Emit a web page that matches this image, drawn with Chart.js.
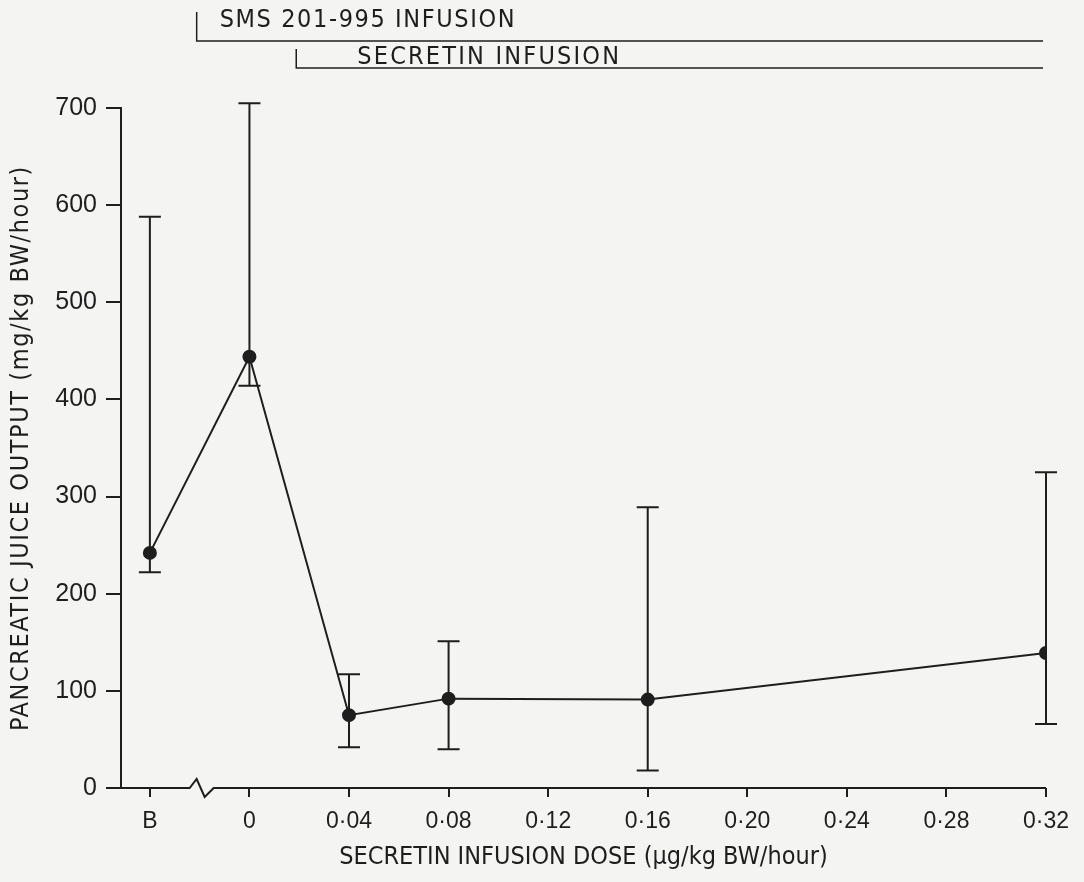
<!DOCTYPE html>
<html>
<head>
<meta charset="utf-8">
<script src="https://cdn.jsdelivr.net/npm/chart.js@4.4.1/dist/chart.umd.min.js"></script>
<style>
  html, body { margin: 0; padding: 0; background: #f4f4f3; }
  #wrap { width: 1084px; height: 882px; }
</style>
</head>
<body>
<div id="wrap"><canvas id="chart" width="1084" height="882"></canvas></div>
<script>
// data
const tickLabels = ['B', '0', '0·04', '0·08', '0·12', '0·16', '0·20', '0·24', '0·28', '0·32'];
const tickPos = [0, 1, 2, 3, 4, 5, 6, 7, 8, 9];
const xPos = [0, 1, 2, 3, 5, 9];          // B, 0, 0.04, 0.08, 0.16, 0.32
const meanVals = [242, 444, 75, 92, 91, 139];
const upperVals = [588, 705, 117, 151, 289, 325];
const lowerVals = [222, 414, 42, 40, 18, 66];

const ink = '#1e1e1e';
const narrow = "'Liberation Sans Narrow', 'DejaVu Sans Condensed', sans-serif";
const plain = "'Liberation Sans', Arimo, sans-serif";

// error bars, broken x axis, y title and the infusion bars on top
const extras = {
  id: 'extras',
  afterDatasetsDraw(chart) {
    const { ctx, scales: { x, y }, chartArea } = chart;
    ctx.save();
    ctx.strokeStyle = ink;
    ctx.lineWidth = 2;

    // error bars
    xPos.forEach((v, i) => {
      const px = x.getPixelForValue(v);
      const top = y.getPixelForValue(upperVals[i]);
      const bot = y.getPixelForValue(lowerVals[i]);
      ctx.beginPath();
      ctx.moveTo(px, top); ctx.lineTo(px, bot);
      ctx.moveTo(px - 11, top); ctx.lineTo(px + 11, top);
      ctx.moveTo(px - 11, bot); ctx.lineTo(px + 11, bot);
      ctx.stroke();
    });

    // x axis line with break between B and 0
    const y0 = y.getPixelForValue(0);
    const bx = x.getPixelForValue(0.52);
    ctx.beginPath();
    ctx.moveTo(chartArea.left, y0);
    ctx.lineTo(bx - 12, y0);
    ctx.lineTo(bx - 5, y0 - 9);
    ctx.lineTo(bx + 3, y0 + 9);
    ctx.lineTo(bx + 12, y0);
    ctx.lineTo(chartArea.right, y0);
    ctx.stroke();

    // infusion bars
    ctx.lineWidth = 1.5;
    const right = chartArea.right - 3;
    const s1 = x.getPixelForValue(0.47);
    const s2 = x.getPixelForValue(1.47);
    ctx.beginPath();
    ctx.moveTo(s1, 12); ctx.lineTo(s1, 41); ctx.lineTo(right, 41);
    ctx.moveTo(s2, 49); ctx.lineTo(s2, 68); ctx.lineTo(right, 68);
    ctx.stroke();

    ctx.fillStyle = ink;
    ctx.font = '25px ' + narrow;
    ctx.textBaseline = 'middle';
    ctx.textAlign = 'left';
    ctx.letterSpacing = '1.6px';
    ctx.fillText('SMS 201-995 INFUSION', s1 + 23, 20);
    ctx.letterSpacing = '2.2px';
    ctx.fillText('SECRETIN INFUSION', s2 + 61, 57);

    // y axis title
    ctx.letterSpacing = '1.6px';
    ctx.textAlign = 'center';
    ctx.translate(21, (chartArea.top + chartArea.bottom) / 2);
    ctx.rotate(-Math.PI / 2);
    ctx.fillText('PANCREATIC JUICE OUTPUT (mg/kg BW/hour)', 0, 0);
    ctx.restore();
  }
};

new Chart(document.getElementById('chart'), {
  type: 'line',
  data: {
    datasets: [{
      data: xPos.map((v, i) => ({ x: v, y: meanVals[i] })),
      borderColor: ink,
      backgroundColor: ink,
      borderWidth: 2,
      pointRadius: 6,
      pointBackgroundColor: ink,
      tension: 0
    }]
  },
  options: {
    responsive: false,
    animation: false,
    layout: { padding: { left: 0, right: 38, top: 108, bottom: 0 } },
    plugins: { legend: { display: false }, tooltip: { enabled: false } },
    scales: {
      x: {
        type: 'linear',
        min: -0.29,
        max: 9,
        afterBuildTicks: (axis) => { axis.ticks = tickPos.map(v => ({ value: v })); },
        afterFit: (axis) => { axis.height = 94; },
        border: { display: false },
        grid: { drawOnChartArea: false, drawTicks: true, tickLength: 9, color: ink, lineWidth: 2 },
        ticks: {
          color: ink,
          padding: 11,
          maxRotation: 0,
          autoSkip: false,
          font: { family: plain, size: 23 },
          callback: (v) => tickLabels[tickPos.indexOf(v)]
        },
        title: {
          display: true,
          text: 'SECRETIN INFUSION DOSE (µg/kg BW/hour)',
          color: ink,
          font: { family: narrow, size: 25 },
          padding: { top: 4, bottom: 10 }
        }
      },
      y: {
        min: 0,
        max: 700,
        afterFit: (axis) => { axis.width = 121; },
        border: { display: true, color: ink, width: 2 },
        grid: { drawOnChartArea: false, drawTicks: true, tickLength: 15, color: ink, lineWidth: 2 },
        ticks: {
          stepSize: 100,
          color: ink,
          padding: 9,
          font: { family: plain, size: 25 }
        }
      }
    }
  },
  plugins: [extras]
});
</script>
</body>
</html>
